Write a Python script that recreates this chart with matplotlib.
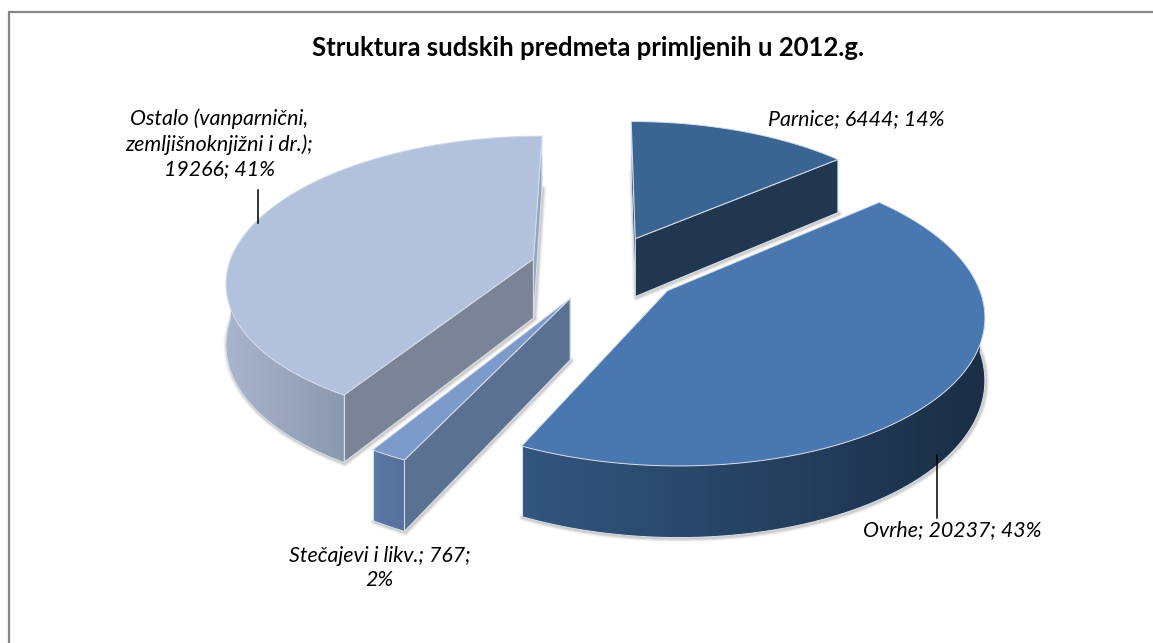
import numpy as np
import matplotlib
matplotlib.use("Agg")
import matplotlib.pyplot as plt
from matplotlib.patches import Polygon
from matplotlib.colors import LinearSegmentedColormap

categories = ["Parnice", "Ovrhe", "Stečajevi i likv.", "Ostalo (vanparnični, zemljišnoknjižni i dr.)"]
values = [6444, 20237, 767, 19266]
percents = ["14%", "43%", "2%", "41%"]
title = "Struktura sudskih predmeta primljenih u 2012.g."
label_lines = [
    "Parnice; 6444; 14%",
    "Ovrhe; 20237; 43%",
    "Stečajevi i likv.; 767;\n2%",
    "Ostalo (vanparnični,\nzemljišnoknjižni i dr.);\n19266; 41%",
]

# styling / projection parameters (pixels)
W, H = 1153, 643
CX, CY = 602, 272
A, B, K, DEPTH = 313, 147, 0.147, 60
OFFSET = [(0.11, 0.235), (0.205, -0.125), (-0.099, -0.175), (-0.222, 0.09)]
RADIUS = [0.97, 0.98, 1.0, 0.98]
TOP = ["#3a6491", "#4977b0", "#7c9aca", "#b2c2dc"]
RADIAL = ["#21374f", None, "#5b7192", "#7b8497"]
END_FACE = ["#1c3048", None, None, "#95a4c0"]
ARC_FROM = [None, "#33567f", "#5b79a6", "#a8b5cc"]
ARC_TO = [None, "#1a2e45", "#55709a", "#8c98ae"]
EDGE = "#d4dcea"
LABEL_POS = [(856, 119), (952, 530), (380, 568), (219, 144)]
LEADERS = [((258, 190), (258, 223)), ((937, 455), (937, 518))]

plt.rcParams["font.family"] = ["Lato", "DejaVu Sans"]
fig = plt.figure(figsize=(W / 100, H / 100), dpi=100)
ax = fig.add_axes([0, 0, 1, 1])
ax.axis("off")


def project(u, v, lower=False):
    s = 1 / (1 + K * v)
    x = CX + A * u * s
    y = CY - B * v * s + (DEPTH * s if lower else 0)
    return np.column_stack([np.atleast_1d(x), np.atleast_1d(y)])


fracs = np.array(values, dtype=float) / sum(values)
ends = np.cumsum(fracs) * 2 * np.pi
starts = ends - fracs * 2 * np.pi

# frame
ax.plot([8.5, 8.5, W], [H, 11.5, 11.5], color="#868686", lw=1.6, solid_joinstyle="miter")


def shadow(pts):
    for lw, al in [(5, 0.05), (3.5, 0.08), (2, 0.14)]:
        ax.add_patch(Polygon(pts + [1, 1], closed=True, fc="none", ec="#404040", lw=lw, alpha=al, joinstyle="round"))


def face(pts, color, ec=EDGE, lw=0.8):
    ax.add_patch(Polygon(pts, closed=True, fc=color, ec=ec, lw=lw, joinstyle="round"))


def grad_face(pts, c0, c1):
    cmap = LinearSegmentedColormap.from_list("g", [c0, c1])
    poly = Polygon(pts, closed=True, fc="none", ec="none", transform=ax.transData)
    ax.add_patch(poly)
    im = ax.imshow(np.linspace(0, 1, 256)[None, :], cmap=cmap, aspect="auto",
                   extent=[pts[:, 0].min(), pts[:, 0].max(), pts[:, 1].max(), pts[:, 1].min()],
                   interpolation="bilinear", zorder=1)
    im.set_clip_path(poly)


for i in [0, 3, 1, 2]:
    t0, t1 = starts[i], ends[i]
    du, dv = OFFSET[i]
    r = RADIUS[i]
    th = np.linspace(t0, t1, 200)
    u = du + r * np.sin(th)
    v = dv + r * np.cos(th)
    apex_t, apex_b = project(du, dv), project(du, dv, True)
    top_arc, low_arc = project(u, v), project(u, v, True)
    top_poly = np.vstack([apex_t, top_arc])

    shadow(np.vstack([apex_b, low_arc]))

    if END_FACE[i]:
        e = -1 if i == 3 else 0
        face(np.vstack([apex_t, top_arc[[e]], low_arc[[e]], apex_b]), END_FACE[i])
    if RADIAL[i]:
        j = -1 if i == 0 else 0
        face(np.vstack([apex_t, top_arc[[j]], low_arc[[j]], apex_b]), RADIAL[i])
    if ARC_FROM[i]:
        a0, a1 = max(t0, np.pi / 2), min(t1, 3 * np.pi / 2)
        ta = np.linspace(a0, a1, 200)
        ua, va = du + r * np.sin(ta), dv + r * np.cos(ta)
        pa, pb = project(ua, va), project(ua, va, True)
        grad_face(np.vstack([pa, pb[::-1]]), ARC_FROM[i], ARC_TO[i])
        ax.plot(pb[:, 0], pb[:, 1], color=EDGE, lw=0.7, zorder=1.5)
        for e, ang in ((0, a0), (-1, a1)):
            if ang in (t0, t1):
                ax.plot([pa[e, 0], pb[e, 0]], [pa[e, 1], pb[e, 1]], color=EDGE, lw=0.8, zorder=1.5)
    ax.add_patch(Polygon(top_poly, closed=True, fc=TOP[i], ec=EDGE, lw=0.7, joinstyle="round", zorder=2))

for (p, q) in LEADERS:
    ax.plot([p[0], q[0]], [p[1], q[1]], color="black", lw=1.1, zorder=3)

ax.text(588, 48, title, ha="center", va="center", fontsize=18.5, fontweight="bold", color="black")
for txt, (x, y) in zip(label_lines, LABEL_POS):
    ax.text(x, y, txt, ha="center", va="center", fontsize=15.4, fontstyle="italic",
            color="black", linespacing=1.3, multialignment="center")

ax.set_xlim(0, W)
ax.set_ylim(H, 0)
fig.savefig("out.png", dpi=100)
